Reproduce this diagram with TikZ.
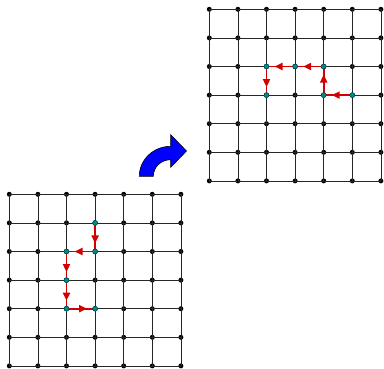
\documentclass[tikz,border=0pt]{standalone}
\usetikzlibrary{arrows.meta,decorations.markings}
\definecolor{myred}{RGB}{210,0,0}
\definecolor{myteal}{RGB}{0,140,140}
\definecolor{myblue}{RGB}{0,0,255}
\begin{document}
\begin{tikzpicture}[x=1pt,y=-1pt,
  gridline/.style={line width=0.8pt,black!85},
  dotb/.style={circle,fill=black,inner sep=0pt,minimum size=5pt},
  dotc/.style={circle,fill=myteal,draw=myteal!50!black,line width=0.6pt,inner sep=0pt,minimum size=5pt},
  redarrow/.style={color=myred,line width=1.8pt,postaction={decorate},
    decoration={markings,mark=at position 0.72 with {\arrow{Triangle[length=8pt,width=7pt]}}}},
  bluearrow/.style={fill=myblue,draw=black,line width=0.6pt,line join=miter}]
\useasboundingbox (0,0) rectangle (384,368);
% bottom-left grid
\foreach \i in {0,...,6}{\foreach \j in {0,...,6}{
  \node[dotb] (a-\i-\j) at ({9.3+28.6*\i},{194.3+28.6*\j}) {};
  \node[dotb] (b-\i-\j) at ({209.3+28.6*\i},{9.3+28.6*\j}) {};
}}
\foreach \k in {0,...,6}{
  \draw[gridline] (a-\k-0.center) -- (a-\k-6.center);
  \draw[gridline] (a-0-\k.center) -- (a-6-\k.center);
  \draw[gridline] (b-\k-0.center) -- (b-\k-6.center);
  \draw[gridline] (b-0-\k.center) -- (b-6-\k.center);
}
% bottom path
\draw[redarrow] (a-3-1.center) -- (a-3-2.center);
\draw[redarrow] (a-3-2.center) -- (a-2-2.center);
\draw[redarrow] (a-2-2.center) -- (a-2-3.center);
\draw[redarrow] (a-2-3.center) -- (a-2-4.center);
\draw[redarrow] (a-2-4.center) -- (a-3-4.center);
\foreach \p in {3-1,3-2,2-2,2-3,2-4,3-4}{\node[dotc] (ca-\p) at (a-\p) {};}
% top path
\draw[redarrow] (b-5-3.center) -- (b-4-3.center);
\draw[redarrow] (b-4-3.center) -- (b-4-2.center);
\draw[redarrow] (b-4-2.center) -- (b-3-2.center);
\draw[redarrow] (b-3-2.center) -- (b-2-2.center);
\draw[redarrow] (b-2-2.center) -- (b-2-3.center);
\foreach \p in {5-3,4-3,4-2,3-2,2-2,2-3}{\node[dotc] (cb-\p) at (b-\p) {};}
% blue curved arrow
\draw[bluearrow] (139.3,176.3) .. controls (139.3,159.7) and (153.4,146.3) .. (170.7,146.3)
  -- (170.7,134.7) -- (186.5,151) -- (170.7,167.3) -- (170.7,159.7)
  .. controls (161.1,159.7) and (153.3,167.1) .. (153.3,176.3) -- cycle;
\end{tikzpicture}
\end{document}
